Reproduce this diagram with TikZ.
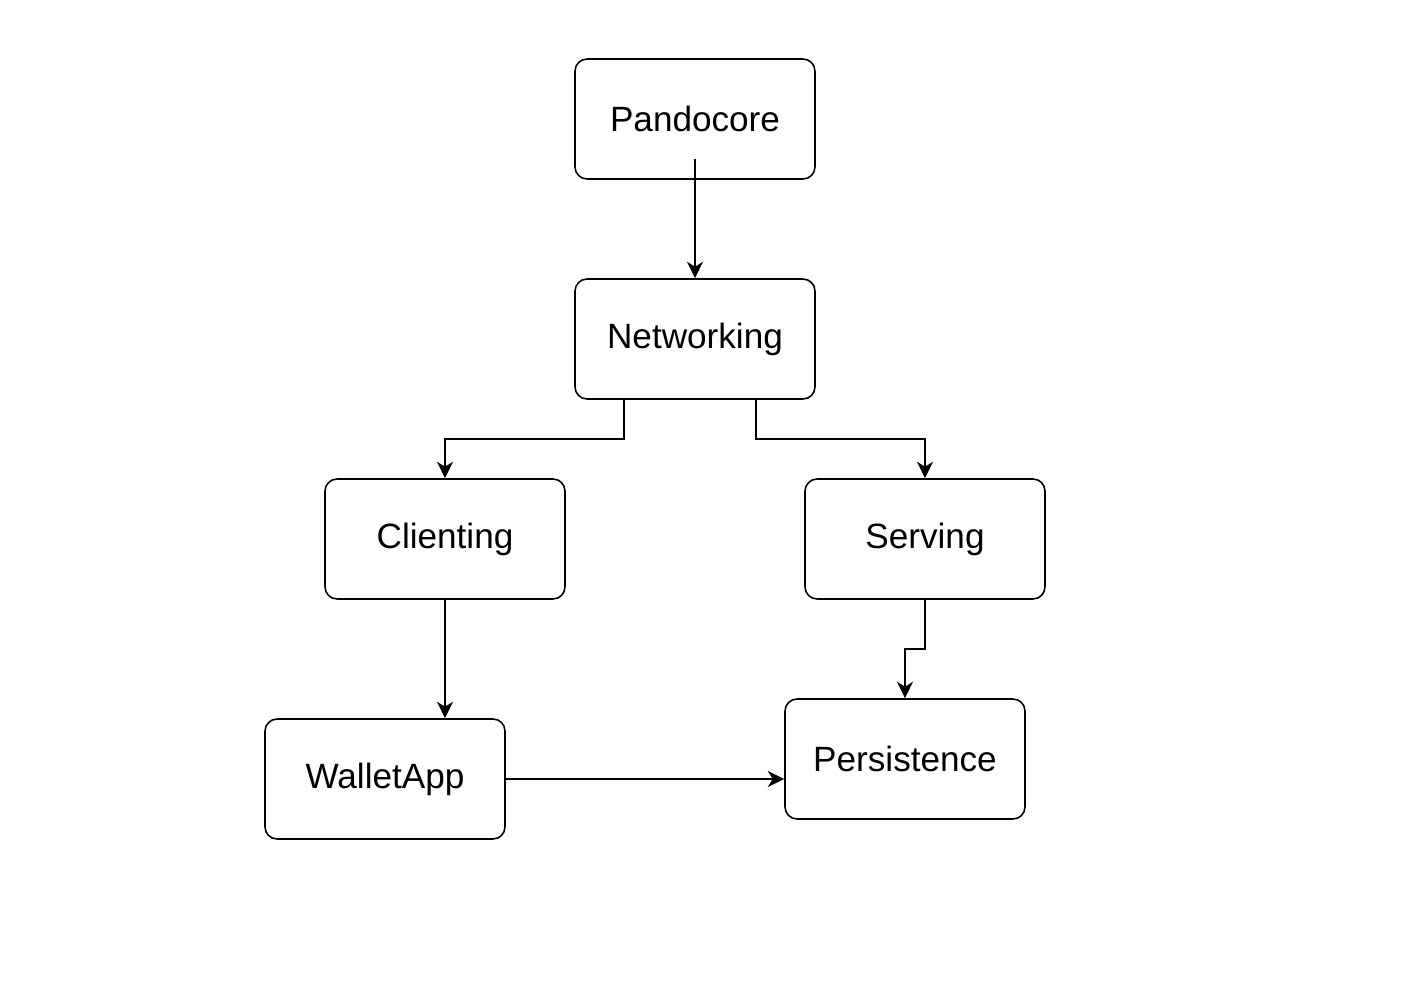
\documentclass[tikz,border=0pt]{standalone}
\usepackage{fontspec}
\setmainfont{Liberation Sans}
\usetikzlibrary{arrows.meta}
\tikzstyle{diagram} = [x = 0.02cm, y = -0.02cm]
\tikzstyle{moduleBox} = [draw=black, fill=white, rounded corners = .24cm, line width = .9pt, minimum width = 4.8cm, minimum height = 2.4cm, font=\fontsize{20}{24}\selectfont, inner sep = 0pt]
\tikzstyle{dependsOn} = [line width = .85pt, -{Stealth[length=.33cm, width=.32cm, inset=.1cm]}]

\begin{document}
\begin{tikzpicture}[diagram]
    \useasboundingbox (0,0) rectangle (1412,1006);
    % modules
    \node [moduleBox] (pandocore) at (695,119) {Pandocore};
    \node [moduleBox] (networking) at (695,339) {Networking};
    \node [moduleBox] (clienting) at (445,539) {Clienting};
    \node [moduleBox] (serving) at (925,539) {Serving};
    \node [moduleBox] (walletApp) at (385,779) {WalletApp};
    \node [moduleBox] (persistence) at (905,759) {Persistence};
    % dependencies
    \coordinate (pandocoreOut) at (695,159);
    \draw [dependsOn] (pandocoreOut) -- (networking);
    \draw [dependsOn] (networking.south west) ++(50,0) |- (445,439) -- (clienting);
    \draw [dependsOn] (networking.south east) ++(-60,0) |- (925,439) -- (serving);
    \draw [dependsOn] (clienting) -- (clienting |- walletApp.north);
    \draw [dependsOn] (serving) |- (905,649) -- (persistence);
    \draw [dependsOn] (walletApp) -- (walletApp -| persistence.west);
\end{tikzpicture}
\end{document}
